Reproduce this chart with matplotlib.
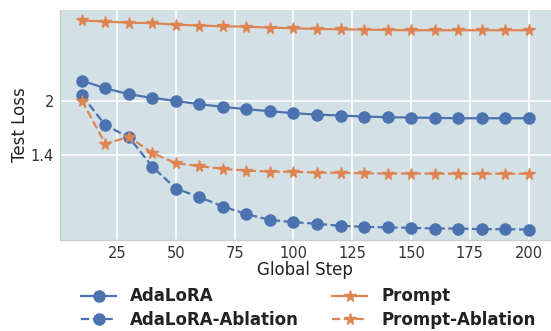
import matplotlib
matplotlib.use("Agg")
import matplotlib.pyplot as plt
import numpy as np

steps = list(range(10, 201, 10))

adalora = [2.227, 2.14, 2.075, 2.033, 2.0, 1.963, 1.933, 1.907, 1.885, 1.862,
           1.847, 1.836, 1.825, 1.818, 1.814, 1.81, 1.806, 1.806, 1.806, 1.806]
adalora_ablation = [2.063, 1.728, 1.594, 1.263, 1.02, 0.924, 0.819, 0.734, 0.670, 0.644,
                    0.626, 0.603, 0.592, 0.585, 0.581, 0.573, 0.573, 0.566, 0.566, 0.562]
prompt = [2.90, 2.886, 2.875, 2.868, 2.853, 2.842, 2.834, 2.83, 2.819, 2.812,
          2.804, 2.80, 2.797, 2.793, 2.79, 2.79, 2.79, 2.79, 2.79, 2.79]
prompt_ablation = [2.003, 1.52, 1.598, 1.416, 1.304, 1.27, 1.24, 1.221, 1.21, 1.207,
                   1.199, 1.196, 1.19, 1.188, 1.188, 1.187, 1.186, 1.186, 1.186, 1.186]

blue = '#4c72b0'
orange = '#dd8452'

fig = plt.figure(figsize=(5.51, 3.31), dpi=100)
ax = fig.add_axes([0.108, 0.275, 0.892, 0.695])
ax.set_facecolor('#d3e1e6')
for s in ['top', 'right']:
    ax.spines[s].set_visible(False)
for s in ['left', 'bottom']:
    ax.spines[s].set_color('#c8cfd3')
    ax.spines[s].set_linewidth(1.0)
ax.grid(color='white', linewidth=1.2)
ax.set_axisbelow(True)

ax.plot(steps, adalora, '-o', color=blue, ms=8, lw=1.6, label='AdaLoRA')
ax.plot(steps, prompt, '-*', color=orange, ms=8.5, lw=1.6, label='Prompt')
ax.plot(steps, adalora_ablation, '--o', color=blue, ms=8, lw=1.6, label='AdaLoRA-Ablation')
ax.plot(steps, prompt_ablation, '--*', color=orange, ms=8.5, lw=1.6, label='Prompt-Ablation')

ax.set_xlim(0.5, 209.5)
ax.set_ylim(0.445, 3.017)
ax.set_xticks([25, 50, 75, 100, 125, 150, 175, 200])
ax.set_yticks([2, 1.4])
ax.set_yticklabels(['2', '1.4'])
ax.tick_params(length=0, labelsize=10.5, colors='#333333', pad=4)
ax.set_xlabel('Global Step', fontsize=12, color='#222222', labelpad=0)
ax.set_ylabel('Test Loss', fontsize=12, color='#222222', labelpad=1)

handles, labels = ax.get_legend_handles_labels()
order = [0, 2, 1, 3]
leg = fig.legend([handles[i] for i in order], [labels[i] for i in order],
                 loc='lower center', bbox_to_anchor=(0.56, -0.04), ncol=2,
                 frameon=False, prop={'weight': 'bold', 'size': 12},
                 columnspacing=2.0, handlelength=2.1, handletextpad=0.85,
                 labelspacing=0.35)
for t in leg.get_texts():
    t.set_color('#222222')

fig.savefig('out.png', dpi=100)
